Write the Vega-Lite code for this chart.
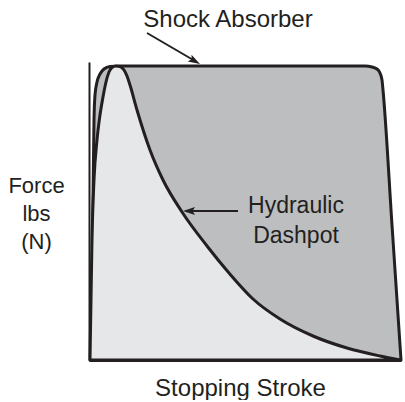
{
  "$schema": "https://vega.github.io/schema/vega-lite/v6.json",
  "autosize": {"type": "none"},
  "padding": {"left": 89, "top": 62, "right": 4, "bottom": 40},
  "width": 312,
  "height": 298,
  "background": "white",
  "config": {"view": {"stroke": null}, "font": "Liberation Sans"},
  "datasets": {
    "shock": [
      {"stroke": 2, "force": 0}, {"stroke": 3, "force": 60}, {"stroke": 4, "force": 160}, {"stroke": 5, "force": 240},
      {"stroke": 6, "force": 265}, {"stroke": 8, "force": 278}, {"stroke": 11, "force": 286}, {"stroke": 15, "force": 291},
      {"stroke": 21, "force": 293.5}, {"stroke": 31, "force": 294}, {"stroke": 150, "force": 294}, {"stroke": 276, "force": 294},
      {"stroke": 283, "force": 293}, {"stroke": 288, "force": 291}, {"stroke": 291, "force": 287}, {"stroke": 293, "force": 280},
      {"stroke": 294, "force": 270}, {"stroke": 303, "force": 135}, {"stroke": 312, "force": 0}
    ],
    "dashpot": [
      {"stroke": 1, "force": 0}, {"stroke": 2, "force": 60}, {"stroke": 3, "force": 120}, {"stroke": 5, "force": 180},
      {"stroke": 8, "force": 220}, {"stroke": 11, "force": 245}, {"stroke": 14, "force": 263}, {"stroke": 17, "force": 278},
      {"stroke": 20, "force": 288}, {"stroke": 23, "force": 292.5}, {"stroke": 27, "force": 294}, {"stroke": 31, "force": 293.5},
      {"stroke": 35, "force": 290}, {"stroke": 38, "force": 284}, {"stroke": 41, "force": 275}, {"stroke": 48, "force": 250},
      {"stroke": 61, "force": 210}, {"stroke": 74, "force": 180}, {"stroke": 93, "force": 148}, {"stroke": 118, "force": 114},
      {"stroke": 140, "force": 87}, {"stroke": 164, "force": 61}, {"stroke": 191, "force": 41}, {"stroke": 224, "force": 24},
      {"stroke": 258, "force": 12}, {"stroke": 291, "force": 4}, {"stroke": 311, "force": 0}
    ],
    "arrows": [
      {"x": 58, "y": 327, "x2": 106, "y2": 299},
      {"x": 149, "y": 149, "x2": 100, "y2": 149}
    ],
    "heads": [
      {"x": 105.8, "y": 299, "angle": 29.5},
      {"x": 100, "y": 149, "angle": 180}
    ],
    "labels": [
      {"x": 207, "y": 147, "label": "Hydraulic"},
      {"x": 207, "y": 117, "label": "Dashpot"}
    ],
    "toplabel": [
      {"x": 139, "y": 333, "label": "Shock Absorber"}
    ]
  },
  "layer": [
    {
      "data": {"name": "shock"},
      "mark": {"type": "area", "interpolate": "monotone", "fill": "#bcbec0", "stroke": "#231f20", "strokeWidth": 3, "strokeJoin": "round"},
      "encoding": {
        "x": {"field": "stroke", "type": "quantitative", "scale": {"domain": [0, 312], "nice": false, "zero": false},
          "axis": {"domain": true, "domainColor": "#231f20", "domainWidth": 3, "ticks": false, "labels": false, "grid": false, "zindex": 1,
            "title": "Stopping Stroke", "titleFontSize": 24, "titleFontWeight": "normal", "titleColor": "#231f20",
            "titleX": 151, "titleY": 35, "titleBaseline": "alphabetic", "titleAnchor": null, "titleAlign": "center"}},
        "y": {"field": "force", "type": "quantitative", "stack": null, "scale": {"domain": [0, 298], "nice": false, "zero": false},
          "axis": {"domain": true, "domainColor": "#231f20", "domainWidth": 2, "ticks": false, "labels": false, "grid": false, "zindex": 1,
            "title": ["Force", "lbs", "(N)"], "titleFontSize": 22, "titleFontWeight": "normal", "titleColor": "#231f20",
            "titleAngle": 0, "titleX": -53, "titleY": 123, "titleBaseline": "middle", "titleAlign": "center", "titleLineHeight": 28}}
      }
    },
    {
      "data": {"name": "dashpot"},
      "mark": {"type": "area", "interpolate": "monotone", "fill": "#e6e7e8", "stroke": "#231f20", "strokeWidth": 3, "strokeJoin": "round"},
      "encoding": {
        "x": {"field": "stroke", "type": "quantitative"},
        "y": {"field": "force", "type": "quantitative", "stack": null}
      }
    },
    {
      "data": {"name": "arrows"},
      "mark": {"type": "rule", "stroke": "#231f20", "strokeWidth": 2},
      "encoding": {
        "x": {"field": "x", "type": "quantitative"},
        "y": {"field": "y", "type": "quantitative"},
        "x2": {"field": "x2"},
        "y2": {"field": "y2"}
      }
    },
    {
      "data": {"name": "heads"},
      "mark": {"type": "point", "filled": true, "shape": "M1,0 L-1,-0.65 L-0.6,0 L-1,0.65 Z", "size": 144, "color": "#231f20", "opacity": 1},
      "encoding": {
        "x": {"field": "x", "type": "quantitative"},
        "y": {"field": "y", "type": "quantitative"},
        "angle": {"field": "angle", "type": "quantitative", "scale": null}
      }
    },
    {
      "data": {"name": "labels"},
      "mark": {"type": "text", "fontSize": 23, "color": "#231f20", "align": "center", "baseline": "alphabetic"},
      "encoding": {
        "x": {"field": "x", "type": "quantitative"},
        "y": {"field": "y", "type": "quantitative"},
        "text": {"field": "label"}
      }
    },
    {
      "data": {"name": "toplabel"},
      "mark": {"type": "text", "fontSize": 24, "color": "#231f20", "align": "center", "baseline": "alphabetic"},
      "encoding": {
        "x": {"field": "x", "type": "quantitative"},
        "y": {"field": "y", "type": "quantitative"},
        "text": {"field": "label"}
      }
    }
  ]
}
